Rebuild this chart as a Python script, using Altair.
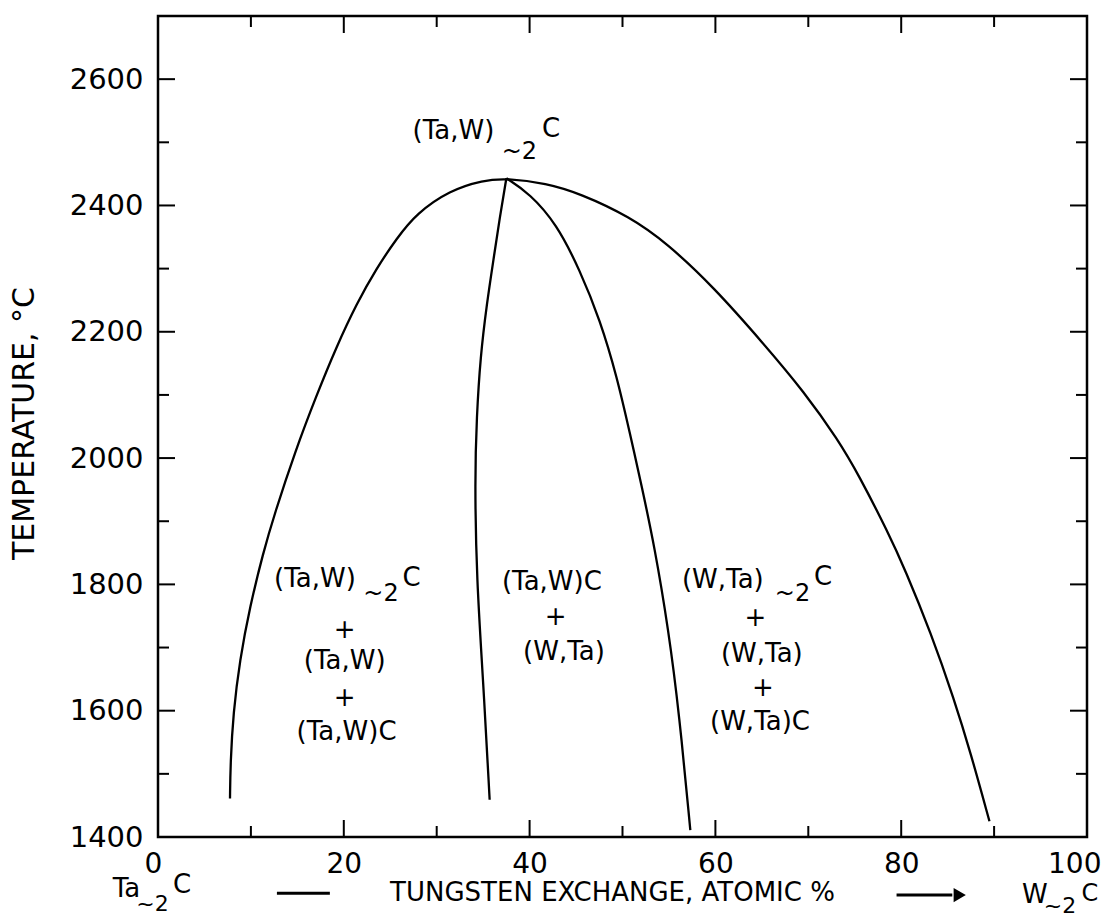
import altair as alt
import pandas as pd

W, H = 929, 821
FONT = "DejaVu Sans"

# ---- phase boundaries (x = W exchange, atomic %, t = temperature, deg C) ----
outer_x = [7.75, 7.8, 8.1, 8.8, 9.9, 11.3, 12.55, 14.8, 17.0, 19.2, 21.4, 23.5, 25.7, 27.8,
           31.4, 35.0, 37.5, 41.8, 45.4, 50.8, 54.8, 59.8, 65.2, 69.6, 73.2, 75.4, 78.6,
           80.4, 83.2, 85.7, 87.5, 89.5]
outer_t = [1461, 1517, 1596, 1680, 1765, 1849, 1912, 2012, 2097, 2176, 2245, 2300, 2348, 2387,
           2424, 2440, 2443, 2435, 2419, 2382, 2340, 2271, 2181, 2104, 2029, 1974, 1882,
           1824, 1723, 1618, 1532, 1425]
midl_x = [37.5, 36.8, 36.1, 35.4, 34.7, 34.3, 34.1, 34.3, 35.0, 35.7]
midl_t = [2443, 2382, 2313, 2245, 2160, 2065, 1965, 1807, 1649, 1459]
midr_x = [37.5, 40.0, 42.9, 45.4, 47.6, 49.4, 50.8, 52.0, 53.45, 54.95, 56.1, 57.3]
midr_t = [2443, 2419, 2371, 2298, 2218, 2129, 2039, 1960, 1860, 1728, 1596, 1411]

# ---- axis ticks ----
x_major = [0, 20, 40, 60, 80, 100]
x_minor = [10, 30, 50, 70, 90]
y_major = [1400, 1600, 1800, 2000, 2200, 2400, 2600]
y_minor = [1500, 1700, 1900, 2100, 2300, 2500]

# ---- annotations ----
label_text = ["(Ta,W)", "~2", "C",
              "(Ta,W)", "~2", "C", "+", "(Ta,W)", "+", "(Ta,W)C",
              "(Ta,W)C", "+", "(W,Ta)",
              "(W,Ta)", "~2", "C", "+", "(W,Ta)", "+", "(W,Ta)C",
              "Ta", "~2", "C", "W", "~2", "C"]
label_x = [31.8, 38.9, 42.3,
           16.9, 24.0, 27.3, 20.1, 20.1, 20.1, 20.3,
           42.4, 42.8, 43.7,
           60.8, 68.3, 71.6, 64.3, 65.0, 65.1, 64.8,
           -3.4, -0.6, 2.6, 94.4, 97.1, 100.3]
label_t = [2518, 2484, 2521,
           1808, 1785, 1810, 1728, 1679, 1620, 1566,
           1804, 1748, 1693,
           1807, 1785, 1812, 1747, 1690, 1636, 1582,
           1318, 1294, 1324, 1308, 1290, 1310]
label_size = [26, 24, 26,
              26, 24, 26, 26, 26, 26, 26,
              26, 26, 26,
              26, 24, 26, 26, 26, 26, 26,
              26, 22, 26, 26, 22, 24]

arrow_x = [12.8, 79.5]
arrow_x2 = [18.5, 85.5]
arrow_t = [1311, 1308]
head_x = [86.3]
head_t = [1308]

# ---- build tables ----
rows = []
for name, xs_, ts_ in [("outer", outer_x, outer_t), ("midl", midl_x, midl_t), ("midr", midr_x, midr_t)]:
    for i, (a, b) in enumerate(zip(xs_, ts_)):
        rows.append({"curve": name, "i": i, "x": a, "t": b})
curves = pd.DataFrame(rows)
labels = pd.DataFrame({"text": label_text, "x": label_x, "t": label_t, "fs": label_size})

xs = alt.Scale(domain=[0, 100], nice=False, zero=False)
ys = alt.Scale(domain=[1400, 2700], nice=False, zero=False)

x_axis = alt.Axis(values=x_major, format="d", title="TUNGSTEN EXCHANGE, ATOMIC %",
                  titleFont=FONT, titleFontSize=26, titleFontWeight="normal", titleColor="black",
                  titleX=454, titleY=55, titleAlign="center", titleBaseline="middle",
                  labelFont=FONT, labelFontSize=28, labelColor="black", labelPadding=13,
                  labelFlush=True, labelFlushOffset=14,
                  ticks=False, tickSize=0, domain=False, grid=False)
y_axis = alt.Axis(values=y_major, format="d", title="TEMPERATURE, °C",
                  titleFont=FONT, titleFontSize=30, titleFontWeight="normal", titleColor="black",
                  titleAngle=270, titleX=-134, titleY=407, titleAlign="center", titleBaseline="middle",
                  labelFont=FONT, labelFontSize=29, labelColor="black", labelPadding=15,
                  ticks=False, tickSize=0, domain=False, grid=False)

lines = alt.Chart(curves).mark_line(color="black", strokeWidth=2.3, interpolate="basis").encode(
    x=alt.X("x:Q", scale=xs, axis=x_axis),
    y=alt.Y("t:Q", scale=ys, axis=y_axis),
    detail="curve:N",
    order="i:Q",
)


def vticks(vals, y0, y1):
    return alt.Chart(pd.DataFrame({"x": vals})).mark_rule(color="black", strokeWidth=2).encode(
        x=alt.X("x:Q", scale=xs), y=alt.value(y0), y2=alt.value(y1))


def hticks(vals, x0, x1):
    return alt.Chart(pd.DataFrame({"t": vals})).mark_rule(color="black", strokeWidth=2).encode(
        y=alt.Y("t:Q", scale=ys), x=alt.value(x0), x2=alt.value(x1))


ticks = [
    vticks(x_major, H, H - 17), vticks(x_minor, H, H - 11),
    vticks(x_major, 0, 17), vticks(x_minor, 0, 11),
    hticks(y_major, 0, 17), hticks(y_minor, 0, 11),
    hticks(y_major, W, W - 17), hticks(y_minor, W, W - 11),
]

texts = alt.Chart(labels).mark_text(font=FONT, color="black", align="center", baseline="middle").encode(
    x=alt.X("x:Q", scale=xs),
    y=alt.Y("t:Q", scale=ys),
    text="text:N",
    size=alt.Size("fs:Q", scale=None, legend=None),
)

arrows = alt.Chart(pd.DataFrame({"x": arrow_x, "x2": arrow_x2, "t": arrow_t})).mark_rule(
    color="black", strokeWidth=3).encode(
    x=alt.X("x:Q", scale=xs), x2="x2:Q", y=alt.Y("t:Q", scale=ys))

head = alt.Chart(pd.DataFrame({"x": head_x, "t": head_t})).mark_point(
    shape="triangle-right", filled=True, color="black", size=200, opacity=1).encode(
    x=alt.X("x:Q", scale=xs), y=alt.Y("t:Q", scale=ys))

chart = alt.layer(lines, *ticks, texts, arrows, head).properties(
    width=W, height=H,
    autosize=alt.AutoSizeParams(type="none"),
    padding={"left": 158, "top": 16, "right": 21, "bottom": 83},
).configure(font=FONT).configure_view(stroke="black", strokeWidth=2.5)

chart.save("out.html", embed_options={"renderer": "svg", "actions": False})
